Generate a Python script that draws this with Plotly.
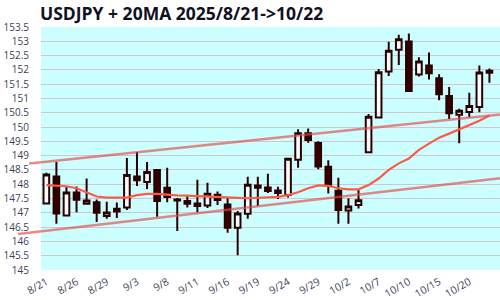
import plotly.graph_objects as go

dates = ["8/21","8/22","8/25","8/26","8/27","8/28","8/29","9/1","9/2","9/3","9/4","9/5",
         "9/8","9/9","9/10","9/11","9/12","9/15","9/16","9/17","9/18","9/19","9/22","9/23",
         "9/24","9/25","9/26","9/29","9/30","10/1","10/2","10/3","10/6","10/7","10/8","10/9",
         "10/10","10/13","10/14","10/15","10/16","10/17","10/20","10/21","10/22"]

open_ = [147.33,148.27,146.91,147.71,147.32,147.37,146.89,147.05,147.19,148.27,148.08,148.50,
         147.88,147.47,147.32,147.33,147.26,147.63,147.29,146.48,146.97,147.88,147.89,147.78,
         147.62,148.86,149.78,149.44,148.61,147.77,147.08,147.27,149.12,150.33,151.94,152.70,
         152.99,151.84,152.15,151.71,151.09,150.43,150.53,150.70,151.90]
high = [148.40,148.78,147.92,147.92,148.20,147.47,147.39,147.36,148.92,149.13,148.78,148.52,
        148.58,147.52,147.62,148.16,148.05,147.75,147.54,147.06,148.26,148.26,148.37,147.91,
        148.93,149.92,149.95,149.50,148.84,148.23,147.51,147.81,150.46,152.03,152.98,153.23,
        153.27,152.44,152.61,151.85,151.40,150.64,151.20,152.15,152.05]
low = [147.30,146.62,146.90,147.02,147.30,146.68,146.79,146.82,147.10,147.94,147.83,146.86,
       147.37,146.36,147.19,147.02,147.17,147.27,146.30,145.52,146.79,147.24,147.69,147.48,
       147.54,148.58,149.45,148.52,147.68,146.62,146.62,147.15,149.10,150.30,151.79,152.17,
       151.25,151.77,151.66,150.94,150.28,149.43,150.34,150.52,151.55]
close = [148.34,146.98,147.71,147.46,147.43,147.00,147.01,147.14,148.32,148.14,148.43,147.41,
         147.55,147.43,147.41,147.24,147.67,147.45,146.48,146.98,147.98,147.96,147.76,147.69,
         148.89,149.78,149.55,148.62,147.96,147.10,147.22,147.44,150.36,151.92,152.67,153.07,
         151.26,152.29,151.88,151.15,150.48,150.57,150.74,151.91,151.97]
ma20 = [147.97,147.95,147.93,147.86,147.72,147.57,147.53,147.52,147.53,147.62,147.66,147.66,
        147.63,147.61,147.60,147.58,147.56,147.55,147.54,147.52,147.51,147.52,147.54,147.56,
        147.62,147.72,147.86,147.96,147.94,147.86,147.82,147.82,147.97,148.20,148.50,148.73,
        148.90,149.20,149.42,149.63,149.77,149.92,150.06,150.22,150.40]

tick_labels = dates[::3]

# trend lines: price at first and last candle
trend_upper = [148.79, 150.40]
trend_lower = [146.37, 148.17]

XR = [-0.53, 45.05]
Y_RANGE = [145, 153.5]

fig = go.Figure()
fig.add_trace(go.Scatter(x=dates, y=ma20, mode="lines",
                         line=dict(color="#ff5a45", width=2.2), showlegend=False))
fig.add_trace(go.Candlestick(
    x=dates, open=open_, high=high, low=low, close=close,
    increasing=dict(line=dict(color="#2b0000", width=2), fillcolor="#ffffff"),
    decreasing=dict(line=dict(color="#2b0000", width=2), fillcolor="#330000"),
    whiskerwidth=0, showlegend=False))

def paper_x(i):
    return (i - XR[0]) / (XR[1] - XR[0])

n = len(dates) - 1
for vals, start in ((trend_upper, -1.71), (trend_lower, -2.80)):
    slope = (vals[1] - vals[0]) / n
    y0 = vals[0] + slope * start
    y1 = vals[0] + slope * XR[1]
    fig.add_shape(type="line", xref="paper", yref="y",
                  x0=paper_x(start), x1=1.0, y0=y0, y1=y1,
                  line=dict(color="rgba(232,70,70,0.65)", width=2.5), layer="above")

fig.update_layout(
    width=500, height=300,
    margin=dict(l=41, r=0, t=27, b=26),
    paper_bgcolor="#ffffff", plot_bgcolor="#ccffff",
    boxgap=0.2,
    title=dict(text="<b>USDJPY + 20MA 2025/8/21->10/22</b>", x=0.08, xanchor="left",
               y=0.955, yanchor="middle",
               font=dict(family="Open Sans", size=17.5, color="#111122")),
    font=dict(family="Open Sans", size=10, color="#3a3f5a"),
    showlegend=False,
)
fig.update_xaxes(type="category", range=XR, rangeslider_visible=False,
                 tickvals=tick_labels, ticktext=tick_labels, tickangle=-30,
                 showgrid=False, zeroline=False, showline=False, ticks="",
                 ticklabelstandoff=3, tickfont=dict(size=10.5))
fig.update_yaxes(range=Y_RANGE, dtick=0.5, tick0=145, showgrid=True,
                 gridcolor="#d2c6cc", gridwidth=1, zeroline=False, showline=False,
                 ticks="", ticklabelstandoff=11, tickfont=dict(size=10))

fig.write_html("out.html")
